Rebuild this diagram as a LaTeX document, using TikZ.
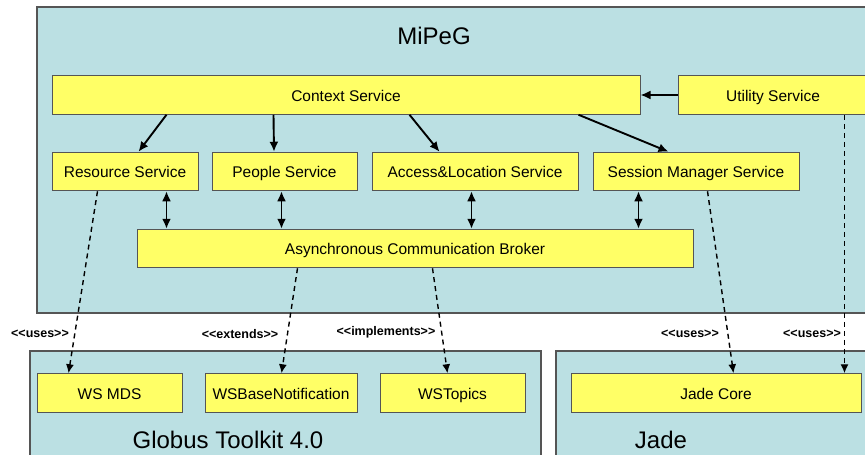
\documentclass[tikz,border=0pt]{standalone}
\usepackage{fontspec}
\setmainfont{Liberation Sans}
\usetikzlibrary{arrows.meta}
\definecolor{contbg}{RGB}{187,224,227}
\definecolor{boxyel}{RGB}{255,255,102}
\definecolor{edgegray}{RGB}{85,85,85}
\begin{document}
\begin{tikzpicture}[x=1pt,y=-1pt,
  container/.style={draw=edgegray,fill=contbg,line width=1.2pt},
  ybox/.style={draw=edgegray,fill=boxyel,line width=1pt,inner sep=0pt,minimum height=38.5pt,text height=13.5pt,text depth=1.5pt,font=\fontsize{15.5}{18}\selectfont},
  title/.style={font=\fontsize{24}{28}\selectfont},
  lbl/.style={font=\fontsize{12.5}{15}\selectfont\bfseries,inner sep=0pt},
  arr/.style={-{Latex[length=10pt,width=9pt]},line width=1.9pt},
  darr/.style={{Latex[length=10pt,width=9pt]}-{Latex[length=10pt,width=9pt]},line width=1.9pt},
  dsh/.style={-{Latex[length=9pt,width=8pt]},line width=1.4pt,dash pattern=on 5pt off 4pt}]
\useasboundingbox (0,0) rectangle (865,455);
\clip (0,0) rectangle (865,455);
\fill[white] (0,0) rectangle (865,455);
% containers
\draw[container] (37,7) rectangle (885,313);
\draw[container] (30,351) rectangle (541,470);
\draw[container] (556,351) rectangle (885,470);
\node[title] (tmipeg) at (434,36) {MiPeG};
\node[title] (tglobus) at (228,440) {Globus Toolkit 4.0};
\node[title] (tjade) at (661,440) {Jade};
% boxes
\node[ybox,minimum width=588pt] (ctx) at (346,95) {Context Service};
\node[ybox,minimum width=190pt] (util) at (773,95) {Utility Service};
\node[ybox,minimum width=146pt] (res) at (125,171.5) {Resource Service};
\node[ybox,minimum width=145pt] (ppl) at (284.5,171.5) {People Service};
\node[ybox,minimum width=206pt] (acc) at (475,171.5) {Access\&Location Service};
\node[ybox,minimum width=206pt] (ses) at (696,171.5) {Session Manager Service};
\node[ybox,minimum width=556pt] (acb) at (415,248.5) {Asynchronous Communication Broker};
\node[ybox,minimum width=145pt] (wsmds) at (109.5,393) {WS MDS};
\node[ybox,minimum width=152pt] (wsbn) at (281,393) {WSBaseNotification};
\node[ybox,minimum width=145pt] (wst) at (452.5,393) {WSTopics};
\node[ybox,minimum width=290pt] (jcore) at (716,393) {Jade Core};
% solid arrows
\draw[arr] (util.west) -- (ctx.east);
\draw[arr] ([xshift=115pt]ctx.south west) -- ([xshift=87pt]res.north west);
\draw[arr] ([xshift=222pt]ctx.south west) -- ([xshift=-10.5pt]ppl.north);
\draw[arr] ([xshift=358pt]ctx.south west) -- ([xshift=68pt]acc.north west);
\draw[arr] ([xshift=527pt]ctx.south west) -- ([xshift=76pt]ses.north west);
% double arrows
\draw[darr] ([xshift=115pt]res.south west) -- ([xshift=30pt]acb.north west);
\draw[darr] ([xshift=70pt]ppl.south west) -- ([xshift=145pt]acb.north west);
\draw[darr] ([xshift=100pt]acc.south west) -- ([xshift=335pt]acb.north west);
\draw[darr] ([xshift=46pt]ses.south west) -- ([xshift=502pt]acb.north west);
% dashed dependencies
\draw[dsh] ([xshift=46pt]res.south west) -- ([xshift=32pt]wsmds.north west);
\draw[dsh] ([xshift=161pt]acb.south west) -- ([xshift=77pt]wsbn.north west);
\draw[dsh] ([xshift=296pt]acb.south west) -- ([xshift=68pt]wst.north west);
\draw[dsh] ([xshift=115pt]ses.south west) -- ([xshift=163pt]jcore.north west);
\draw[dsh] ([xshift=167pt]util.south west) -- ([xshift=274pt]jcore.north west);
% labels
\node[lbl] (l1) at (40,334) {<{}<uses>{}>};
\node[lbl] (l2) at (240,334) {<{}<extends>{}>};
\node[lbl] (l3) at (386,332) {<{}<implements>{}>};
\node[lbl] (l4) at (690,334) {<{}<uses>{}>};
\node[lbl] (l5) at (812,334) {<{}<uses>{}>};
\end{tikzpicture}
\end{document}
